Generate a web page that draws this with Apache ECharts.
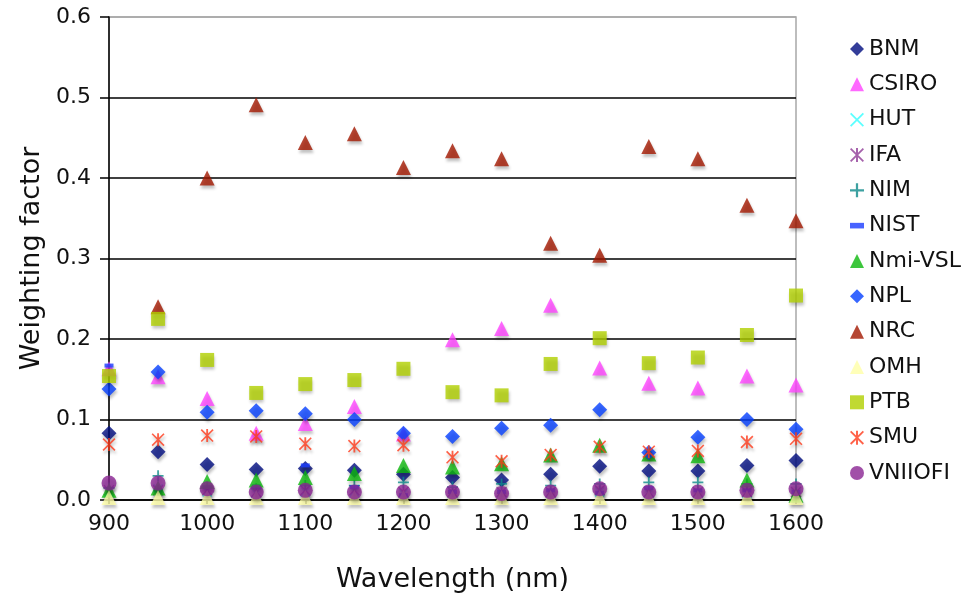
<!DOCTYPE html>
<html>
<head>
<meta charset="utf-8">
<script src="https://cdn.jsdelivr.net/npm/echarts@6/dist/echarts.min.js"></script>
<style>
  html, body { margin: 0; padding: 0; background: #fff; }
  #chart { width: 968px; height: 600px; }
</style>
</head>
<body>
<div id="chart"></div>
<script>
// Wavelengths (nm) at which each laboratory's weighting factor is given
const wavelengths = [900, 950, 1000, 1050, 1100, 1150, 1200, 1250, 1300, 1350, 1400, 1450, 1500, 1550, 1600];

const BNM     = [0.083, 0.060, 0.044, 0.038, 0.039, 0.037, 0.032, 0.028, 0.025, 0.032, 0.042, 0.036, 0.036, 0.043, 0.049];
const CSIRO   = [0.163, 0.153, 0.126, 0.083, 0.095, 0.116, 0.082, 0.199, 0.213, 0.242, 0.164, 0.145, 0.139, 0.154, 0.143];
const HUT     = [0.010, 0.014, 0.010, 0.008, 0.010, 0.010, 0.008, 0.008, 0.008, 0.008, 0.010, 0.008, 0.008, 0.008, 0.008];
const IFA     = [0.012, 0.012, 0.012, 0.010, 0.012, 0.012, 0.010, 0.010, 0.010, 0.010, 0.012, 0.010, 0.010, 0.010, 0.010];
const NIM     = [0.015, 0.030, 0.016, 0.014, 0.018, 0.018, 0.022, 0.016, 0.020, 0.018, 0.020, 0.022, 0.022, 0.020, 0.020];
const NIST    = [0.167, 0.012, 0.016, 0.017, 0.043, 0.016, 0.006, 0.010, 0.010, 0.012, 0.009, 0.015, 0.012, 0.012, 0.010];
const NmiVSL  = [0.012, 0.015, 0.023, 0.025, 0.028, 0.033, 0.043, 0.041, 0.045, 0.056, 0.068, 0.057, 0.055, 0.025, 0.006];
const NPL     = [0.138, 0.159, 0.109, 0.111, 0.107, 0.100, 0.083, 0.079, 0.089, 0.093, 0.112, 0.059, 0.078, 0.100, 0.088];
const NRC     = [null, 0.240, 0.400, 0.491, 0.444, 0.455, 0.413, 0.434, 0.424, 0.319, 0.304, 0.439, 0.424, 0.366, 0.347];
const OMH     = [0.003, 0.003, 0.003, 0.003, 0.003, 0.003, 0.003, 0.003, 0.003, 0.003, 0.003, 0.003, 0.003, 0.003, 0.003];
const PTB     = [0.154, 0.225, 0.174, 0.133, 0.144, 0.149, 0.163, 0.134, 0.130, 0.169, 0.201, 0.170, 0.177, 0.205, 0.254];
const SMU     = [0.069, 0.075, 0.080, 0.079, 0.070, 0.067, 0.068, 0.053, 0.048, 0.056, 0.066, 0.060, 0.061, 0.072, 0.076];
const VNIIOFI = [0.021, 0.021, 0.014, 0.010, 0.012, 0.010, 0.010, 0.010, 0.008, 0.010, 0.014, 0.010, 0.010, 0.012, 0.014];

// Stroke-like marker shapes built as filled outlines
const CROSS_X  = 'path://M0,0.9L0.9,0L10,9.1L9.1,10ZM9.1,0L10,0.9L0.9,10L0,9.1Z';
const STAR     = 'path://M4.3,0L5.7,0L5.7,10L4.3,10ZM0,0.9L0.9,0L10,9.1L9.1,10ZM9.1,0L10,0.9L0.9,10L0,9.1Z';
const PLUS     = 'path://M4.2,0H5.8V4.2H10V5.8H5.8V10H4.2V5.8H0V4.2H4.2Z';
const DASH     = 'path://M0,0H10V4H0Z';

const seriesDefs = [
  { name: 'BNM',     data: BNM,     color: '#000c80', symbol: 'diamond',  size: 15 },
  { name: 'CSIRO',   data: CSIRO,   color: '#ff44ff', symbol: 'triangle', size: 15 },
  { name: 'HUT',     data: HUT,     color: '#33ffff', symbol: CROSS_X,    size: 10 },
  { name: 'IFA',     data: IFA,     color: '#8e3a96', symbol: STAR,       size: 11 },
  { name: 'NIM',     data: NIM,     color: '#0c8a8a', symbol: PLUS,       size: 11 },
  { name: 'NIST',    data: NIST,    color: '#1a3cff', symbol: DASH,       size: [9, 4] },
  { name: 'Nmi-VSL', data: NmiVSL,  color: '#0db80d', symbol: 'triangle', size: 15 },
  { name: 'NPL',     data: NPL,     color: '#0540ff', symbol: 'diamond',  size: 15 },
  { name: 'NRC',     data: NRC,     color: '#a21800', symbol: 'triangle', size: 15 },
  { name: 'OMH',     data: OMH,     color: '#ffffa8', symbol: 'triangle', size: 15 },
  { name: 'PTB',     data: PTB,     color: '#b0d000', symbol: 'rect',     size: 14 },
  { name: 'SMU',     data: SMU,     color: '#ff3a1a', symbol: STAR,       size: 13 },
  { name: 'VNIIOFI', data: VNIIOFI, color: '#8a2492', symbol: 'circle',   size: 15 }
];

const FONT = 'DejaVu Sans';
const INK = '#111';

const chart = echarts.init(document.getElementById('chart'), null, { renderer: 'canvas' });

chart.setOption({
  animation: false,
  backgroundColor: '#ffffff',
  textStyle: { fontFamily: FONT },
  grid: {
    left: 109, right: 172, top: 17, bottom: 100,
    show: true, borderColor: '#a8a8a8', borderWidth: 1.5, backgroundColor: 'transparent'
  },
  legend: {
    orient: 'vertical',
    left: 845, top: 33,
    itemWidth: 14, itemHeight: 14, itemGap: 13.33,
    textStyle: { fontFamily: FONT, fontSize: 22, color: INK, lineHeight: 22 },
    itemStyle: { shadowBlur: 0, shadowColor: 'rgba(0,0,0,0)', shadowOffsetX: 0, shadowOffsetY: 0 },
    data: seriesDefs.map(s => s.name)
  },
  xAxis: {
    type: 'value',
    min: 900, max: 1600, interval: 100,
    name: 'Wavelength (nm)',
    nameLocation: 'middle', nameGap: 66,
    nameTextStyle: { fontFamily: FONT, fontSize: 27, color: INK },
    axisLine: { show: true, onZero: false, lineStyle: { color: '#000', width: 1.5 } },
    axisTick: { show: true, inside: false, length: 4, lineStyle: { color: '#000', width: 1.5 } },
    axisLabel: { fontFamily: FONT, fontSize: 22, color: INK, margin: 13,
                 formatter: v => String(v) },
    splitLine: { show: false }
  },
  yAxis: {
    type: 'value',
    min: 0, max: 0.6, interval: 0.1,
    name: 'Weighting factor',
    nameLocation: 'middle', nameGap: 64,
    nameTextStyle: { fontFamily: FONT, fontSize: 27, color: INK },
    axisLine: { show: true, onZero: false, lineStyle: { color: '#000', width: 1.5 } },
    axisTick: { show: true, inside: false, length: 9, lineStyle: { color: '#000', width: 1.5 } },
    axisLabel: { fontFamily: FONT, fontSize: 22, color: INK, margin: 18,
                 formatter: v => v.toFixed(1) },
    splitLine: { show: true, lineStyle: { color: ['#000', '#000', '#000', '#000', '#000', '#000', '#a8a8a8'], width: 1.5 } }
  },
  series: seriesDefs.map(s => ({
    name: s.name,
    type: 'scatter',
    symbol: s.symbol,
    symbolSize: s.size,
    symbolKeepAspect: false,
    itemStyle: {
      color: s.color,
      shadowColor: 'rgba(0,0,0,0.3)', shadowBlur: 3, shadowOffsetX: 1, shadowOffsetY: 3
    },
    emphasis: { disabled: true },
    data: wavelengths.map((w, i) => [w, s.data[i]]).filter(p => p[1] !== null)
  }))
});
</script>
</body>
</html>
